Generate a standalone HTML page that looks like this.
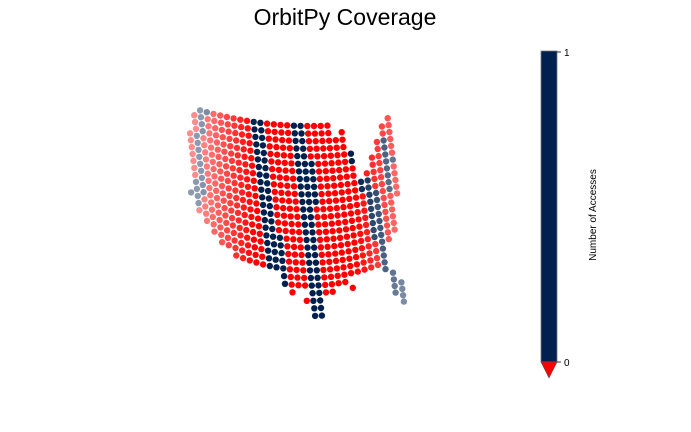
<!DOCTYPE html>
<html><head><meta charset="utf-8">
<style>
html,body{margin:0;padding:0;background:#fff;}
svg{display:block;font-family:"Liberation Sans",sans-serif;}
</style></head>
<body>
<svg id="chart" width="691" height="432" viewBox="0 0 691 432">
  <text x="345" y="25" text-anchor="middle" font-size="23" fill="#000">OrbitPy Coverage</text>
  <g id="points"></g>
  <g>
    <rect x="541" y="51" width="16" height="311" fill="#00204f" stroke="#777" stroke-width="0.8"/>
    <polygon points="541,362 557,362 549,378" fill="#ff0000" stroke="#555" stroke-width="0.6"/>
    <line x1="557" y1="52" x2="561" y2="52" stroke="#000" stroke-width="0.8"/>
    <line x1="557" y1="362" x2="561" y2="362" stroke="#000" stroke-width="0.8"/>
    <text x="564" y="56" font-size="10" fill="#000">1</text>
    <text x="564" y="366" font-size="10" fill="#000">0</text>
    <text transform="translate(596,215) rotate(-90)" text-anchor="middle" font-size="10" fill="#000">Number of Accesses</text>
  </g>
</svg>
<script>
// Grid of ground points: each string is one latitude row (north to south),
// each character one longitude column: 'b' = 1 access, 'r' = 0 accesses, '.' = no point
const rowAccess = [
"...bbrrrrrrbbrrrrbbrrrr........r",
"..rbrrrrrrrbbrrrrbbrrrr.r.....rr",
"..rbrrrrrrrbbrrrrbbrrrrrr.....rr",
"..rbrrrrrrrbbrrrrbbrrrrrr....rbr",
".rbrrrrrrrrbbrrrrbbrrrrrrb...rbr",
".rbrrrrrrrrbbrrrrbbbrrrrrb..rrbr",
".rbrrrrrrrrbbrrrrbbbrrrrrr..rrbb",
".rbrrrrrrrrbbrrrrbbbrrrrrr.rrrbr",
".rbrrrrrrrrbbrrrrbbbrrrrrrbbrrbr",
".rbrrrrrrrrbbrrrrbbbrrrrrrbbrrbr",
".rbrrrrrrrrbbrrrrbbbrrrrrrrbbrbr",
".bbrrrrrrrrbbrrrrbbrrrrrrrrbbrrr",
".bbrrrrrrrrbbrrrrbbrrrrrrrrbbrr.",
"bbrrrrrrrrrbbrrrrbbrrrrrrrrbbrr.",
".brrrrrrrrrbbrrrrbbrrrrrrrrbbrr.",
".rrrrrrrrrrbbbrrrbbrrrrrrrrbbrr.",
"..rrrrrrrrrbbbrrrbbrrrrrrrrbbrr.",
"...rrrrrrrrbbbrrrbbrrrrrrrrrbr..",
"....rrrrrrrbbbrrrbbrrrrrrrrrb...",
"......rrrrrbbbrrrbbrrrrrrrrrb...",
".............brrrbbrrrrrrrrrb...",
".............brrrbbrrrr.....b...",
"..............r..bbrr..r.....b..",
"................rbb..........b..",
".................bb..........bb.",
".................bb..........bb.",
"..............................b.",
"..............................b."
];
const colorLevels = [0, 1];
const levelColors = ["#ff0000", "#00204f"];

// projection (grid row/col -> screen)
function projX(col, row){ return 180 + 6.7*col + 0.85*row; }
function projY(col, row){
  const d = projX(col,row) - 310;
  return 126 + 7.6*row*(1 - 1e-5*d*d) - 0.0013*d*d;
}
function alphaAt(x){
  const d = Math.abs(x - 305);
  return Math.max(0.45, Math.min(1, 1 - (d - 50)/100));
}
const g = document.getElementById('points');
const NS = "http://www.w3.org/2000/svg";
rowAccess.forEach((row, j) => {
  for (let i = 0; i < row.length; i++) {
    const ch = row[i];
    if (ch === '.') continue;
    const v = ch === 'b' ? colorLevels[1] : colorLevels[0];
    const x = projX(i, j), y = projY(i, j);
    const c = document.createElementNS(NS, 'circle');
    c.setAttribute('cx', x.toFixed(1));
    c.setAttribute('cy', y.toFixed(1));
    c.setAttribute('r', 3.2);
    c.setAttribute('fill', levelColors[v]);
    c.setAttribute('fill-opacity', alphaAt(x).toFixed(2));
    
    
    g.appendChild(c);
  }
});
</script>
</body></html>
